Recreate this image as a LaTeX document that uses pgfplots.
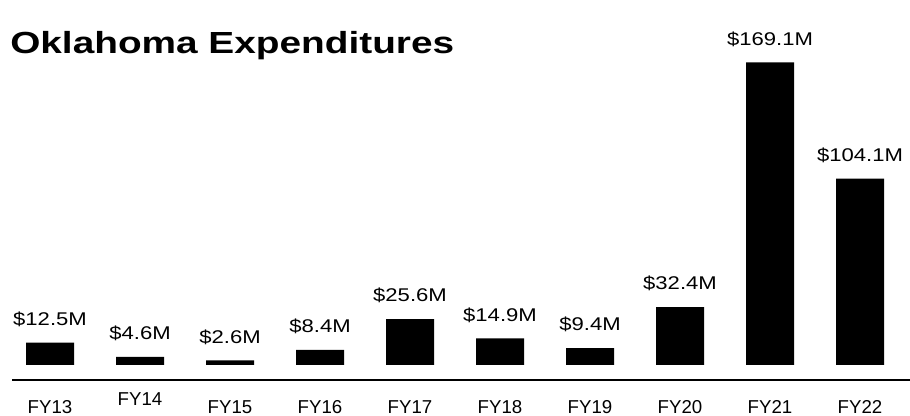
\documentclass[border=0pt]{standalone}
\usepackage{pgfplots}
\pgfplotsset{compat=1.18}
\usepackage{fontspec}
\setmainfont{Liberation Sans}
\begin{document}
\begin{tikzpicture}[x=1pt,y=1pt]
\path[use as bounding box] (0,0) rectangle (682.5,312);
\node[anchor=base west, inner sep=0pt, font=\fontsize{22.9}{26}\selectfont\bfseries] at (7.5,271.5) {\scalebox{1.27}[1]{Oklahoma Expenditures}};
\begin{axis}[
  at={(3.75pt,38.25pt)}, anchor=south west,
  scale only axis, width=675pt, height=273.75pt,
  xmin=-0.5, xmax=9.5, ymin=0, ymax=204,
  enlargelimits=false, clip=false,
  axis line style={draw=none},
  major tick length=0pt,
  ytick=\empty,
  xtick={0,...,9},
  xticklabels={FY13,\raisebox{6pt}{FY14},FY15,FY16,FY17,FY18,FY19,FY20,FY21,FY22},
  xticklabel style={font=\fontsize{14}{16}\selectfont, anchor=base, yshift=-36.4pt},
  ybar, bar width=36pt,
  nodes near coords={\scalebox{1.2}[1]{\$\pgfmathprintnumber[fixed,precision=1,fixed zerofill,assume math mode=true]{\pgfplotspointmeta}M}},
  every node near coord/.append style={font=\fontsize{13.8}{16}\selectfont, anchor=base, yshift=13pt, black},
]
\addplot[fill=black, draw=none] coordinates {
 (0,12.5) (1,4.6) (2,2.6) (3,8.4) (4,25.6) (5,14.9) (6,9.4) (7,32.4) (8,169.1) (9,104.1)
};
\draw[line width=1.5pt] (axis cs:-0.422,-8.38) -- (axis cs:9.556,-8.38);
\end{axis}
\end{tikzpicture}
\end{document}
